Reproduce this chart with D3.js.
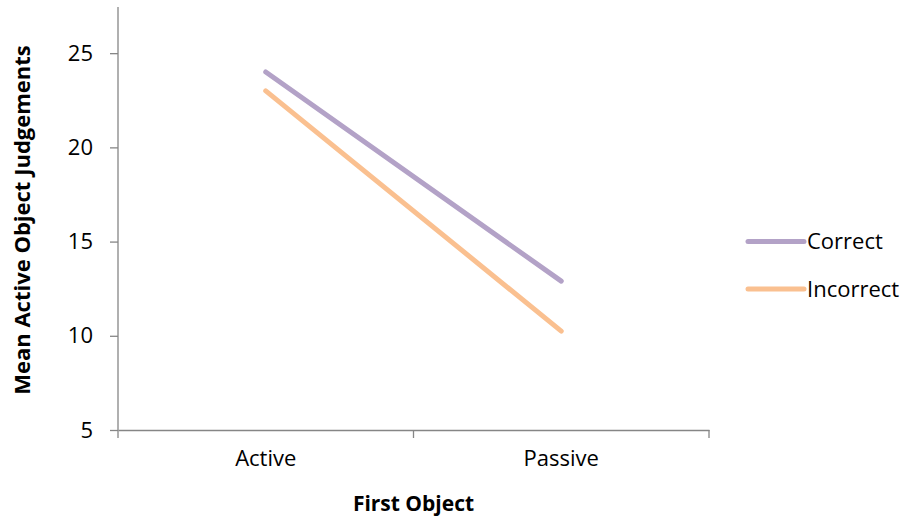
<!DOCTYPE html>
<html lang="en">
<meta charset="utf-8">
<script src="https://d3js.org/d3.v7.min.js"></script>
<style>
  body { margin: 0; background: #fff; }
  text { font-family: "Open Sans", "Liberation Sans", sans-serif; fill: #000; }
</style>
<div id="my_dataviz"></div>
<script>
  // data
  var categories = ["Active", "Passive"];
  var seriesNames = ["Correct", "Incorrect"];
  var correctValues = [24.0, 12.9];
  var incorrectValues = [23.0, 10.25];
  var yTicks = [5, 10, 15, 20, 25];
  var colors = ["#b3a2c7", "#fac090"];

  var series = [
    {name: seriesNames[0], values: correctValues, color: colors[0]},
    {name: seriesNames[1], values: incorrectValues, color: colors[1]}
  ];

  var margin = {top: 7, left: 118},
    width = 591,
    height = 423;

  var svg = d3.select("#my_dataviz")
    .append("svg")
      .attr("width", 908)
      .attr("height", 519)
    .append("g")
      .attr("transform", "translate(" + margin.left + "," + margin.top + ")");

  var x = d3.scaleBand()
    .domain(categories)
    .range([0, width]);

  var y = d3.scaleLinear()
    .domain([5, 27.45])
    .range([height, 0]);

  // y axis
  var yAxis = svg.append("g")
    .call(d3.axisLeft(y).tickValues(yTicks).tickSize(8).tickPadding(17).tickSizeOuter(0));
  yAxis.select(".domain").remove();
  yAxis.selectAll(".tick line").attr("stroke", "#868686").attr("stroke-width", 1.3);
  yAxis.selectAll("text").style("font-size", "22px").attr("fill", "#000");
  svg.append("line")
    .attr("x1", 0).attr("x2", 0)
    .attr("y1", 0).attr("y2", height + 8)
    .attr("stroke", "#868686").attr("stroke-width", 1.3);

  // x axis
  var xAxis = svg.append("g")
    .attr("transform", "translate(0," + height + ")")
    .call(d3.axisBottom(x).tickSize(0).tickPadding(20));
  xAxis.select(".domain").attr("stroke", "#868686").attr("stroke-width", 1.3);
  xAxis.selectAll("text").style("font-size", "22px").attr("fill", "#000");
  var bounds = [x(categories[0]) + x.bandwidth(), x(categories[1]) + x.bandwidth()];
  svg.selectAll(".xsep")
    .data(bounds)
    .enter().append("line")
      .attr("x1", function(d) { return d; })
      .attr("x2", function(d) { return d; })
      .attr("y1", height).attr("y2", height + 8)
      .attr("stroke", "#868686").attr("stroke-width", 1.3);

  // lines
  var line = d3.line()
    .x(function(d, i) { return x(categories[i]) + x.bandwidth() / 2; })
    .y(function(d) { return y(d); });

  svg.selectAll(".series")
    .data(series)
    .enter().append("path")
      .attr("d", function(d) { return line(d.values); })
      .attr("fill", "none")
      .attr("stroke", function(d) { return d.color; })
      .attr("stroke-width", 5)
      .attr("stroke-linecap", "round");

  // legend
  var legend = svg.selectAll(".legend")
    .data(series)
    .enter().append("g")
      .attr("transform", function(d, i) { return "translate(630," + (234.5 + i * 47.5) + ")"; });
  legend.append("line")
    .attr("x1", 0).attr("x2", 56)
    .attr("stroke", function(d) { return d.color; })
    .attr("stroke-width", 5)
    .attr("stroke-linecap", "round");
  legend.append("text")
    .attr("x", 59)
    .attr("dy", "0.35em")
    .style("font-size", "22px")
    .text(function(d) { return d.name; });

  // axis titles
  svg.append("text")
    .attr("x", width / 2)
    .attr("y", 511 - margin.top)
    .attr("text-anchor", "middle")
    .style("font-size", "21px")
    .style("font-weight", "bold")
    .text("First Object");

  svg.append("text")
    .attr("transform", "translate(" + (30 - margin.left) + "," + (220 - margin.top) + ") rotate(-90)")
    .attr("text-anchor", "middle")
    .style("font-size", "22px")
    .style("font-weight", "bold")
    .text("Mean Active Object Judgements");
</script>
</html>
